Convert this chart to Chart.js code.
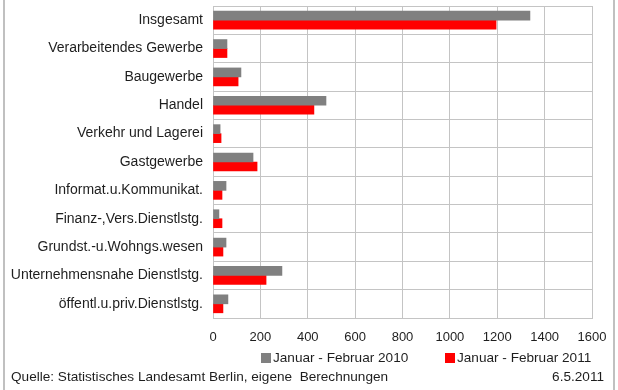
<!DOCTYPE html>
<html>
<head>
    <title>Erwerbstätige nach Wirtschaftsbereichen</title>
    <meta charset="UTF-8">
    <style>
        html, body {
            margin: 0;
            padding: 0;
            background: #ffffff;
        }
        .chart-container {
            position: relative;
            width: 618px;
            height: 390px;
        }
    </style>
    <script src="https://cdn.jsdelivr.net/npm/chart.js"></script>
    <script>
        // Branchen (von oben nach unten)
        const categories = [
            'Insgesamt',
            'Verarbeitendes Gewerbe',
            'Baugewerbe',
            'Handel',
            'Verkehr und Lagerei',
            'Gastgewerbe',
            'Informat.u.Kommunikat.',
            'Finanz-,Vers.Dienstlstg.',
            'Grundst.-u.Wohngs.wesen',
            'Unternehmensnahe Dienstlstg.',
            'öffentl.u.priv.Dienstlstg.'
        ];

        const seriesLabels = ['Januar - Februar 2010', 'Januar - Februar 2011'];

        const values2010 = [1338, 59, 118, 477, 30, 169, 55, 25, 55, 291, 63];
        const values2011 = [1195, 59, 106, 426, 34, 186, 38, 38, 42, 224, 42];

        const xTicks = [0, 200, 400, 600, 800, 1000, 1200, 1400, 1600];

        const sourceText = 'Quelle: Statistisches Landesamt Berlin, eigene  Berechnungen';
        const dateText = '6.5.2011';

        const FONT = '"Liberation Sans", Arial, sans-serif';
        const TEXT_COLOR = '#1e1e1e';
        const GRID_COLOR = '#c4c4c4';

        // keine automatischen Randabstände der Achsen, damit die Zeichenfläche fest sitzt
        function clearPadding(scale) {
            scale.paddingTop = 0;
            scale.paddingBottom = 0;
            scale.paddingLeft = 0;
            scale.paddingRight = 0;
        }

        // Legende, Quellenangabe und Seitenrahmen
        const extrasPlugin = {
            id: 'extras',
            afterDraw(chart) {
                const ctx = chart.ctx;
                ctx.save();

                // Rahmenlinien links und rechts
                ctx.strokeStyle = '#c0c0c0';
                ctx.lineWidth = 2;
                ctx.beginPath();
                ctx.moveTo(4, 0);
                ctx.lineTo(4, chart.height);
                ctx.moveTo(614, 0);
                ctx.lineTo(614, chart.height);
                ctx.stroke();

                ctx.font = '13.6px ' + FONT;
                ctx.fillStyle = TEXT_COLOR;
                ctx.textBaseline = 'middle';

                // Legende
                const legendX = [261, 445];
                chart.data.datasets.forEach((ds, i) => {
                    ctx.fillStyle = ds.backgroundColor;
                    ctx.fillRect(legendX[i], 353, 10, 10);
                    ctx.fillStyle = TEXT_COLOR;
                    ctx.textAlign = 'left';
                    ctx.fillText(ds.label, legendX[i] + 12, 358);
                });

                // Fußzeile
                ctx.textAlign = 'left';
                ctx.fillText(sourceText, 11, 377);
                ctx.textAlign = 'right';
                ctx.fillText(dateText, 604, 377);

                ctx.restore();
            }
        };

        function renderChart() {
            const ctx = document.getElementById('myChart').getContext('2d');
            new Chart(ctx, {
                type: 'bar',
                data: {
                    labels: categories,
                    datasets: [{
                        label: seriesLabels[0],
                        data: values2010,
                        backgroundColor: '#808080',
                        barThickness: 9,
                        categoryPercentage: 0.78
                    }, {
                        label: seriesLabels[1],
                        data: values2011,
                        backgroundColor: '#ff0000',
                        barThickness: 9,
                        categoryPercentage: 0.78
                    }]
                },
                options: {
                    indexAxis: 'y',
                    responsive: false,
                    animation: false,
                    layout: {
                        padding: { left: 0, right: 26, top: 6, bottom: 0 }
                    },
                    plugins: {
                        legend: { display: false },
                        tooltip: { enabled: false }
                    },
                    scales: {
                        x: {
                            min: 0,
                            max: 1600,
                            afterBuildTicks: function (scale) {
                                scale.ticks = xTicks.map(v => ({ value: v }));
                            },
                            afterFit: function (scale) {
                                scale.height = 72;
                                clearPadding(scale);
                            },
                            ticks: {
                                color: TEXT_COLOR,
                                font: { family: FONT, size: 13 },
                                padding: 12,
                                maxRotation: 0,
                                callback: function (value) {
                                    return String(value);
                                }
                            },
                            grid: {
                                color: GRID_COLOR,
                                lineWidth: 1,
                                drawTicks: false
                            },
                            border: {
                                color: GRID_COLOR,
                                width: 1
                            }
                        },
                        y: {
                            afterFit: function (scale) {
                                scale.width = 213;
                                clearPadding(scale);
                            },
                            ticks: {
                                color: TEXT_COLOR,
                                font: { family: FONT, size: 14 },
                                padding: 10,
                                autoSkip: false
                            },
                            grid: {
                                color: GRID_COLOR,
                                lineWidth: 1,
                                drawTicks: false,
                                offset: true
                            },
                            border: {
                                color: GRID_COLOR,
                                width: 1
                            }
                        }
                    }
                },
                plugins: [extrasPlugin]
            });
        }

        window.onload = renderChart;
    </script>
</head>
<body>
<div class="chart-container">
    <canvas id="myChart" width="618" height="390"></canvas>
</div>
</body>
</html>
